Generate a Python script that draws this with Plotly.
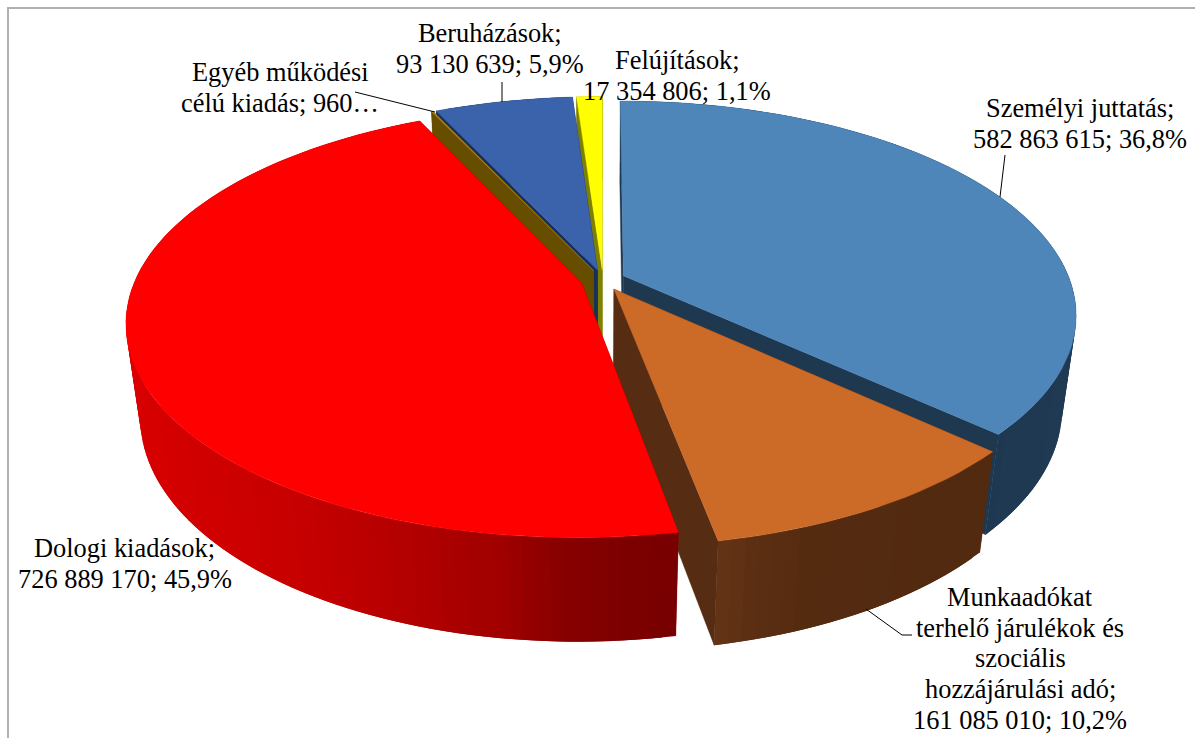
import math
import plotly.graph_objects as go

categories = ["Személyi juttatás", "Munkaadókat terhelő járulékok és szociális hozzájárulási adó",
              "Dologi kiadások", "Egyéb működési célú kiadás", "Beruházások", "Felújítások"]
values = [582863615, 161085010, 726889170, 960000, 93130639, 17354806]
label_lines = [
    ["Személyi juttatás;", "582 863 615; 36,8%"],
    ["Munkaadókat", "terhelő járulékok és", "szociális", "hozzájárulási adó;", "161 085 010; 10,2%"],
    ["Dologi kiadások;", "726 889 170; 45,9%"],
    ["Egyéb működési", "célú kiadás; 960…"],
    ["Beruházások;", "93 130 639; 5,9%"],
    ["Felújítások;", "17 354 806; 1,1%"],
]
label_pos = [(1080, 108), (1020, 597), (124.5, 548), (280, 72), (490, 33), (677, 60)]
top_colors = ["#4F86BA", "#CC6A28", "#FF0000", "#B8860F", "#3B63AB", "#FFFF00"]
# wall shade as (screen x, colour) stops for each slice
wall_stops = [
    [(980, "#1D3850"), (1080, "#1F3A52")],
    [(715, "#663516"), (760, "#5A2E12"), (810, "#552B10"), (990, "#512A10")],
    [(125, "#D80000"), (300, "#C60000"), (400, "#B40000"), (500, "#A00000"), (560, "#880000"), (620, "#7E0000"), (680, "#770000")],
    [(0, "#664D00"), (1195, "#664D00")],
    [(0, "#17305A"), (1195, "#17305A")],
    [(0, "#808000"), (1195, "#808000")],
]
radial_colors = ["#1E3850", "#562C12", "#8A0000", "#664D00", "#17305A", "#808000"]
leaders = [
    [(1000, 197), (1005, 155)],
    [(866, 609), (902, 635), (912, 635)],
    [(435, 112), (355, 92)],
    [(502, 102), (502, 82)],
]

CX, CY, A, B, K, M, D, EXPL = 603, 280, 446.5, 207.6, 0.179, 0.03, 96, 0.05
LINE_STEP = 30.7


def project(u, v, z):
    w = 1 + K * v + M * z
    return CX + A * u / w, CY + (-B * v + D * z) / w


def shade(stops, x):
    if x <= stops[0][0]:
        x = stops[0][0]
    for (x0, c0), (x1, c1) in zip(stops, stops[1:]):
        if x <= x1:
            t = (x - x0) / (x1 - x0)
            p = [int(c0[i:i + 2], 16) for i in (1, 3, 5)]
            q = [int(c1[i:i + 2], 16) for i in (1, 3, 5)]
            return "rgb(%d,%d,%d)" % tuple(round(a + (b - a) * t) for a, b in zip(p, q))
    return stops[-1][1]


def poly(fig, pts, color, width=0.0):
    fig.add_trace(go.Scatter(x=[p[0] for p in pts] + [pts[0][0]], y=[p[1] for p in pts] + [pts[0][1]],
                             mode="lines", fill="toself", fillcolor=color,
                             line=dict(color=color, width=width), hoverinfo="skip", showlegend=False))


total = sum(values)
spans = []
start = 0.0
for val in values:
    spans.append((start, start + 360 * val / total))
    start += 360 * val / total

fig = go.Figure()
order = [5, 4, 3, 0, 1, 2]
for i in order:
    a0, a1 = spans[i]
    mid = math.radians((a0 + a1) / 2)
    ou, ov = EXPL * math.sin(mid), EXPL * math.cos(mid)

    def pt(ang, r, z):
        t = math.radians(ang)
        return project(ou + r * math.sin(t), ov + r * math.cos(t), z)

    for ang in (a1, a0):
        poly(fig, [pt(ang, 0, 0), pt(ang, 1, 0), pt(ang, 1, 1), pt(ang, 0, 1)], radial_colors[i], 0.4)
    n = max(2, int((a1 - a0) / 1.5))
    for j in range(n):
        t0 = a0 + (a1 - a0) * j / n
        t1 = min(a1, a0 + (a1 - a0) * (j + 2) / n)
        sub = [t0 + (t1 - t0) * s / 2 for s in range(3)]
        tm = t0 + (a1 - a0) / n / 2
        poly(fig, [pt(s, 1, 0) for s in sub] + [pt(s, 1, 1) for s in reversed(sub)],
             shade(wall_stops[i], pt(tm, 1, 0)[0]))
    m = max(2, int((a1 - a0) / 2))
    poly(fig, [pt(a0, 0, 0)] + [pt(a0 + (a1 - a0) * j / m, 1, 0) for j in range(m + 1)], top_colors[i], 0.4)

for line in leaders:
    fig.add_trace(go.Scatter(x=[p[0] for p in line], y=[p[1] for p in line], mode="lines",
                             line=dict(color="black", width=1), hoverinfo="skip", showlegend=False))

for lines, (x, y) in zip(label_lines, label_pos):
    for k, text in enumerate(lines):
        fig.add_annotation(x=x, y=y + k * LINE_STEP, text=text, showarrow=False, align="center",
                           xanchor="center", yanchor="middle",
                           font=dict(family="Liberation Serif", size=26.4, color="black"))

fig.add_shape(type="rect", x0=8, y0=8, x1=1300, y1=900, line=dict(color="#B0B0B0", width=2), layer="below")
fig.update_layout(width=1195, height=738, margin=dict(l=0, r=0, t=0, b=0), showlegend=False,
                  paper_bgcolor="white", plot_bgcolor="white",
                  xaxis=dict(range=[0, 1195], visible=False, fixedrange=True),
                  yaxis=dict(range=[738, 0], visible=False, fixedrange=True))
fig.write_html("out.html", config={"displayModeBar": False},
               post_script="document.body.style.margin='0';document.body.style.overflow='hidden';")
